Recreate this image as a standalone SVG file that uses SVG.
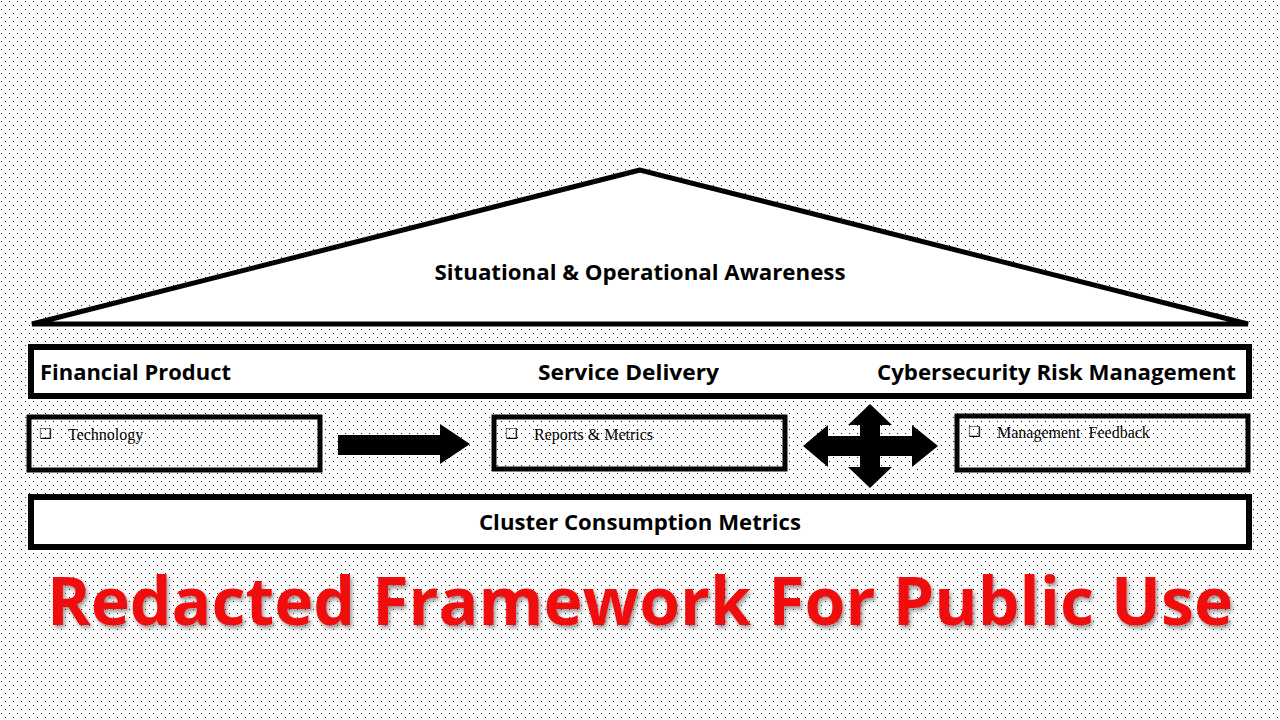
<svg xmlns="http://www.w3.org/2000/svg" width="1280" height="720" viewBox="0 0 1280 720">
<defs>
<pattern id="dots" width="8" height="8" patternUnits="userSpaceOnUse">
<rect width="8" height="8" fill="#fff"/>
<rect x="1" y="1" width="1" height="1" fill="#111"/>
<rect x="5" y="5" width="1" height="1" fill="#111"/>
</pattern>
<filter id="shadow" filterUnits="userSpaceOnUse" x="20" y="540" width="1240" height="120">
<feDropShadow dx="2" dy="3" stdDeviation="2" flood-color="#555" flood-opacity="0.6"/>
</filter>
</defs>
<style>
.box{fill:#fff;stroke:#000;stroke-width:6}
.sub{fill:none;stroke:#000;stroke-width:5}
.hd{font-family:"Open Sans","Liberation Sans",sans-serif;font-weight:bold;font-size:21px;fill:#000}
.it{font-family:"Liberation Serif",serif;font-size:16px;fill:#000}
.chk{font-family:"DejaVu Sans",sans-serif;font-size:14px;font-weight:bold;fill:#000}
</style>
<rect width="1280" height="720" fill="url(#dots)"/>
<g id="roof">
<polygon points="640,170 32,324 1248,324" fill="#fff" stroke="#000" stroke-width="5" stroke-linejoin="miter"/>
<text class="hd" x="640" y="280" text-anchor="middle" textLength="411" lengthAdjust="spacingAndGlyphs">Situational &amp; Operational Awareness</text>
</g>
<g id="pillars">
<rect class="box" x="31" y="347" width="1218" height="49"/>
<text class="hd" x="40" y="380" textLength="191" lengthAdjust="spacingAndGlyphs">Financial Product</text>
<text class="hd" x="538" y="380" textLength="181" lengthAdjust="spacingAndGlyphs">Service Delivery</text>
<text class="hd" x="877" y="380" textLength="359" lengthAdjust="spacingAndGlyphs">Cybersecurity Risk Management</text>
</g>
<g id="technology">
<rect class="sub" x="29" y="417" width="291" height="53"/>
<text class="chk" x="39" y="438">❑</text>
<text class="it" x="68" y="440">Technology</text>
</g>
<g id="reports">
<rect class="sub" x="494" y="417" width="291" height="52"/>
<text class="chk" x="505" y="438">❑</text>
<text class="it" x="534" y="440">Reports &amp; Metrics</text>
</g>
<g id="feedback">
<rect class="sub" x="957" y="416" width="291" height="54"/>
<text class="chk" x="968" y="436">❑</text>
<text class="it" x="997" y="438" xml:space="preserve">Management  Feedback</text>
</g>
<g id="connectors">
<polygon points="338,435 440,435 440,424 470,444 440,464 440,455 338,455" fill="#000"/>
<polygon points="803,446 828,425 828,436 860,436 860,425 848,425 870,404 892,425 880,425 880,436 912,436 912,425 938,446 912,467 912,456 880,456 880,467 892,467 870,488 848,467 860,467 860,456 828,456 828,467" fill="#000"/>
</g>
<g id="cluster">
<rect class="box" x="31" y="497" width="1218" height="50"/>
<text class="hd" x="640" y="530" text-anchor="middle" textLength="322" lengthAdjust="spacingAndGlyphs">Cluster Consumption Metrics</text>
</g>
<g id="banner" filter="url(#shadow)">
<text x="640" y="625" text-anchor="middle" font-family="Open Sans, Liberation Sans, sans-serif" font-weight="bold" font-size="66" fill="#f01010" textLength="1186" lengthAdjust="spacingAndGlyphs">Redacted Framework For Public Use</text>
</g>
</svg>
